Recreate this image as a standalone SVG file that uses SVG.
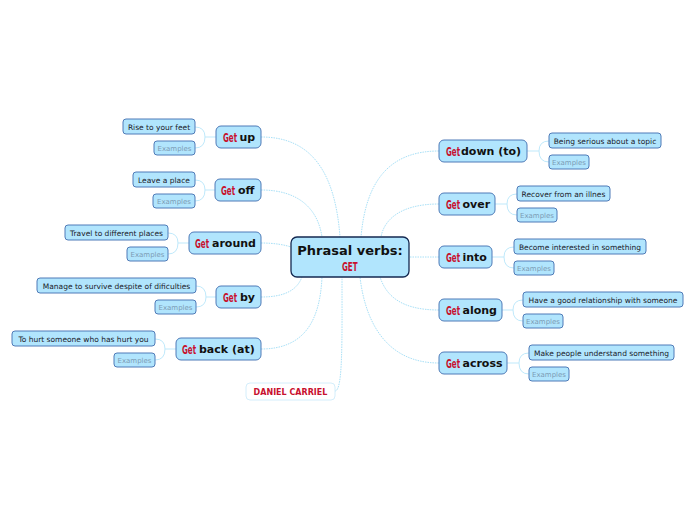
<svg xmlns="http://www.w3.org/2000/svg" width="696" height="520" viewBox="0 0 696 520">
<style>
.n{fill:#b1e5fd;stroke:#4f7bb8;stroke-width:1}
.c{fill:#b1e5fd;stroke:#142850;stroke-width:1.3}
.t{font-family:"DejaVu Sans",Verdana,sans-serif;font-weight:bold;font-size:11px;fill:#111}
.g{font-family:"DejaVu Sans",sans-serif;font-weight:bold;font-size:13px;fill:#c8102e}
.s{font-family:"DejaVu Sans",Verdana,sans-serif;font-size:7.5px;fill:#1a1a2a}
.e{font-family:"DejaVu Sans",Verdana,sans-serif;font-size:7px;fill:#7c9bb4}
.lk{fill:none;stroke:#a8e0f7;stroke-width:1;stroke-dasharray:1.5 1}
.sl{fill:none;stroke:#bfe9fb;stroke-width:1}
</style>
<g id="connectors">
<path class="lk" d="M261,137 C310,137 335,170 340,237"/>
<path class="lk" d="M261,190 C300,190 318,210 322,237"/>
<path class="lk" d="M261,243 C275,243 285,245 291,247"/>
<path class="lk" d="M261,297 C285,297 297,290 302,277"/>
<path class="lk" d="M261,349 C305,349 320,320 322,277"/>
<path class="lk" d="M335,391 C343,391 342,340 342,277"/>
<path class="lk" d="M439,151 C390,151 366,180 361,237"/>
<path class="lk" d="M439,204 C400,204 384,220 381,237"/>
<path class="lk" d="M439,257 L409,257"/>
<path class="lk" d="M439,310 C400,310 386,295 380,277"/>
<path class="lk" d="M439,363 C385,363 365,320 360,277"/>
<path class="sl" d="M216,137 H205 M205,137 Q205,127 195,127 M205,137 Q205,148 195,148"/>
<path class="sl" d="M215,190 H205 M205,190 Q205,180 195,180 M205,190 Q205,201 195,201"/>
<path class="sl" d="M189,243 H178 M178,243 Q178,233 168,233 M178,243 Q178,254 168,254"/>
<path class="sl" d="M216,297 H206 M206,297 Q206,286 196,286 M206,297 Q206,307 196,307"/>
<path class="sl" d="M176,349 H165 M165,349 Q165,339 155,339 M165,349 Q165,360 155,360"/>
<path class="sl" d="M527,151 H539 M539,151 Q539,141 549,141 M539,151 Q539,162 549,162"/>
<path class="sl" d="M495,204 H507 M507,204 Q507,194 517,194 M507,204 Q507,215 517,215"/>
<path class="sl" d="M492,257 H504 M504,257 Q504,247 514,247 M504,257 Q504,268 514,268"/>
<path class="sl" d="M502,310 H513 M513,310 Q513,300 523,300 M513,310 Q513,321 523,321"/>
<path class="sl" d="M507,363 H519 M519,363 Q519,353 529,353 M519,363 Q519,374 529,374"/>
</g>
<g id="center">
<rect class="c" x="291" y="237" width="118" height="40" rx="6"/>
<text x="350" y="254.5" text-anchor="middle" style="font-family:'DejaVu Sans',Verdana,sans-serif;font-weight:bold;font-size:13px;fill:#111">Phrasal verbs:</text>
<text transform="translate(342,271) scale(0.55,1)" class="g">GET</text>
</g>
<g id="get-up">
<rect class="n" x="216" y="126" width="45" height="22" rx="5"/>
<text transform="translate(223,141.5) scale(0.55,1)" class="g">Get</text>
<text x="239.5" y="141" class="t">up</text>
</g>
<g id="get-up-def"><rect class="n" x="123" y="119" width="72" height="15" rx="3"/><text x="159" y="129.5" text-anchor="middle" class="s">Rise to your feet</text></g>
<g id="get-up-ex"><rect class="n" x="154" y="141" width="41" height="14" rx="3"/><text x="174.5" y="151" text-anchor="middle" class="e">Examples</text></g>
<g id="get-off">
<rect class="n" x="215" y="179" width="46" height="22" rx="5"/>
<text transform="translate(221,194.5) scale(0.55,1)" class="g">Get</text>
<text x="238" y="194" class="t">off</text>
</g>
<g id="get-off-def"><rect class="n" x="133" y="172" width="62" height="15" rx="3"/><text x="164" y="182.5" text-anchor="middle" class="s">Leave a place</text></g>
<g id="get-off-ex"><rect class="n" x="153" y="194" width="42" height="14" rx="3"/><text x="174" y="204" text-anchor="middle" class="e">Examples</text></g>
<g id="get-around">
<rect class="n" x="189" y="232" width="72" height="22" rx="5"/>
<text transform="translate(195,247.5) scale(0.55,1)" class="g">Get</text>
<text x="212" y="247" class="t">around</text>
</g>
<g id="get-around-def"><rect class="n" x="65" y="225" width="103" height="15" rx="3"/><text x="116.5" y="235.5" text-anchor="middle" class="s">Travel to different places</text></g>
<g id="get-around-ex"><rect class="n" x="127" y="247" width="41" height="14" rx="3"/><text x="147.5" y="257" text-anchor="middle" class="e">Examples</text></g>
<g id="get-by">
<rect class="n" x="216" y="286" width="45" height="22" rx="5"/>
<text transform="translate(223,301.5) scale(0.55,1)" class="g">Get</text>
<text x="240" y="301" class="t">by</text>
</g>
<g id="get-by-def"><rect class="n" x="37" y="278" width="159" height="15" rx="3"/><text x="116.5" y="288.5" text-anchor="middle" class="s">Manage to survive despite of dificulties</text></g>
<g id="get-by-ex"><rect class="n" x="155" y="300" width="41" height="14" rx="3"/><text x="175.5" y="310" text-anchor="middle" class="e">Examples</text></g>
<g id="get-back">
<rect class="n" x="176" y="338" width="85" height="22" rx="5"/>
<text transform="translate(182,353.5) scale(0.55,1)" class="g">Get</text>
<text x="199" y="353" class="t">back (at)</text>
</g>
<g id="get-back-def"><rect class="n" x="12" y="331" width="143" height="15" rx="3"/><text x="83.5" y="341.5" text-anchor="middle" class="s">To hurt someone who has hurt you</text></g>
<g id="get-back-ex"><rect class="n" x="114" y="353" width="41" height="14" rx="3"/><text x="134.5" y="363" text-anchor="middle" class="e">Examples</text></g>
<g id="get-down">
<rect class="n" x="439" y="140" width="88" height="22" rx="5"/>
<text transform="translate(446,155.5) scale(0.55,1)" class="g">Get</text>
<text x="461" y="155" class="t">down (to)</text>
</g>
<g id="get-down-def"><rect class="n" x="549" y="133" width="112" height="15" rx="3"/><text x="605" y="143.5" text-anchor="middle" class="s">Being serious about a topic</text></g>
<g id="get-down-ex"><rect class="n" x="549" y="155" width="40" height="14" rx="3"/><text x="569" y="165" text-anchor="middle" class="e">Examples</text></g>
<g id="get-over">
<rect class="n" x="439" y="193" width="56" height="22" rx="5"/>
<text transform="translate(446,208.5) scale(0.55,1)" class="g">Get</text>
<text x="462.5" y="208" class="t">over</text>
</g>
<g id="get-over-def"><rect class="n" x="517" y="186" width="93" height="15" rx="3"/><text x="563.5" y="196.5" text-anchor="middle" class="s">Recover from an illnes</text></g>
<g id="get-over-ex"><rect class="n" x="517" y="208" width="40" height="14" rx="3"/><text x="537" y="218" text-anchor="middle" class="e">Examples</text></g>
<g id="get-into">
<rect class="n" x="439" y="246" width="53" height="22" rx="5"/>
<text transform="translate(446,261.5) scale(0.55,1)" class="g">Get</text>
<text x="462.5" y="261" class="t">into</text>
</g>
<g id="get-into-def"><rect class="n" x="514" y="239" width="132" height="15" rx="3"/><text x="580" y="249.5" text-anchor="middle" class="s">Become interested in something</text></g>
<g id="get-into-ex"><rect class="n" x="514" y="261" width="40" height="14" rx="3"/><text x="534" y="271" text-anchor="middle" class="e">Examples</text></g>
<g id="get-along">
<rect class="n" x="439" y="299" width="63" height="22" rx="5"/>
<text transform="translate(446,314.5) scale(0.55,1)" class="g">Get</text>
<text x="462.5" y="314" class="t">along</text>
</g>
<g id="get-along-def"><rect class="n" x="523" y="292" width="160" height="15" rx="3"/><text x="603" y="302.5" text-anchor="middle" class="s">Have a good relationship with someone</text></g>
<g id="get-along-ex"><rect class="n" x="523" y="314" width="40" height="14" rx="3"/><text x="543" y="324" text-anchor="middle" class="e">Examples</text></g>
<g id="get-across">
<rect class="n" x="439" y="352" width="68" height="22" rx="5"/>
<text transform="translate(446,367.5) scale(0.55,1)" class="g">Get</text>
<text x="462.5" y="367" class="t">across</text>
</g>
<g id="get-across-def"><rect class="n" x="529" y="345" width="145" height="15" rx="3"/><text x="601.5" y="355.5" text-anchor="middle" class="s">Make people understand something</text></g>
<g id="get-across-ex"><rect class="n" x="529" y="367" width="40" height="14" rx="3"/><text x="549" y="377" text-anchor="middle" class="e">Examples</text></g>
<g id="author">
<rect x="246" y="383" width="89" height="17" rx="4" fill="#fff" stroke="#d4eefb" stroke-width="1"/>
<text x="290.5" y="395" text-anchor="middle" style="font-family:'DejaVu Sans',Verdana,sans-serif;font-weight:bold;font-size:8px;fill:#c8102e">DANIEL CARRIEL</text>
</g>
</svg>
